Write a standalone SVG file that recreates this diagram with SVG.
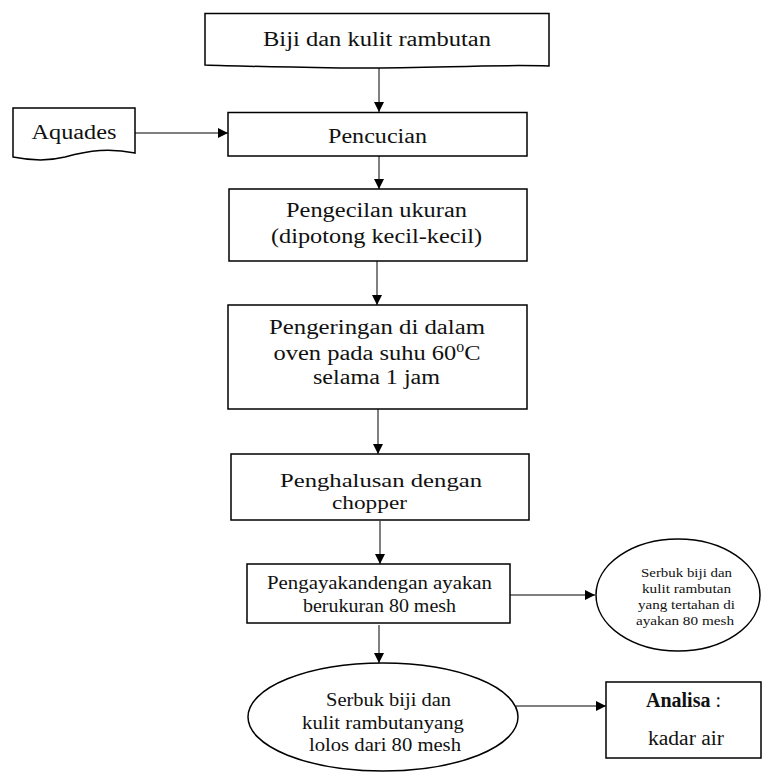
<svg xmlns="http://www.w3.org/2000/svg" width="763" height="772" viewBox="0 0 763 772">
<style>
.box{fill:#fff;stroke:#000;stroke-width:1.5}
.t{font-family:"Liberation Serif","Times New Roman",serif;font-size:20px;fill:#111;text-anchor:middle}
.m{font-family:"Liberation Serif","Times New Roman",serif;font-size:18px;fill:#111;text-anchor:middle}
.s{font-family:"Liberation Serif","Times New Roman",serif;font-size:12.5px;fill:#111;text-anchor:middle}
.c{stroke:#808080;stroke-width:2;fill:none;marker-end:url(#ah)}
</style>
<defs>
<marker id="ah" markerUnits="userSpaceOnUse" markerWidth="12" markerHeight="12" refX="10" refY="5" orient="auto">
<path d="M0,0 L10,5 L0,10 Z" fill="#000"/>
</marker>
</defs>
<rect width="763" height="772" fill="#fff"/>
<g id="connectors">
<line class="c" x1="379" y1="67" x2="379" y2="112"/>
<line class="c" x1="135" y1="133" x2="228" y2="133"/>
<line class="c" x1="379" y1="156" x2="379" y2="189"/>
<line class="c" x1="377" y1="261" x2="377" y2="305"/>
<line class="c" x1="378" y1="409" x2="378" y2="454"/>
<line class="c" x1="380" y1="521" x2="380" y2="564"/>
<line class="c" x1="510" y1="595" x2="595" y2="595"/>
<line class="c" x1="379" y1="625" x2="379" y2="663"/>
<line class="c" x1="516" y1="706" x2="606" y2="706"/>
</g>
<g id="n-biji">
<path class="box" d="M205,13.5 H549 V66 C480,64 430,69 340,68 C280,67 230,66 205,65 Z"/>
<text class="t" x="377" y="46" textLength="228" lengthAdjust="spacingAndGlyphs">Biji dan kulit rambutan</text>
</g>
<g id="n-aquades">
<path class="box" d="M13,108 H135 V153 C110,148 90,150 65,157 C45,162 28,160 13,157 Z"/>
<text class="t" x="74" y="139" textLength="85" lengthAdjust="spacingAndGlyphs">Aquades</text>
</g>
<g id="n-pencucian">
<rect class="box" x="228" y="112.5" width="299" height="43.5"/>
<text class="t" x="377.5" y="143" textLength="99" lengthAdjust="spacingAndGlyphs">Pencucian</text>
</g>
<g id="n-pengecilan">
<rect class="box" x="229" y="189" width="298" height="72"/>
<text class="t" x="376.5" y="217" textLength="181" lengthAdjust="spacingAndGlyphs">Pengecilan ukuran</text>
<text class="t" x="376.5" y="243" textLength="211" lengthAdjust="spacingAndGlyphs">(dipotong kecil-kecil)</text>
</g>
<g id="n-pengeringan">
<rect class="box" x="228" y="305" width="299" height="104"/>
<text class="t" x="377" y="334" textLength="216" lengthAdjust="spacingAndGlyphs">Pengeringan di dalam</text>
<text class="t" x="377" y="360" textLength="207" lengthAdjust="spacingAndGlyphs">oven pada suhu 60<tspan dy="-8" font-size="13">0</tspan><tspan dy="8">C</tspan></text>
<text class="t" x="376.5" y="384" textLength="127" lengthAdjust="spacingAndGlyphs">selama 1 jam</text>
</g>
<g id="n-penghalusan">
<rect class="box" x="231" y="454" width="298" height="66"/>
<text class="m" x="381" y="487" textLength="202" lengthAdjust="spacingAndGlyphs">Penghalusan dengan</text>
<text class="m" x="369.5" y="509" textLength="75" lengthAdjust="spacingAndGlyphs">chopper</text>
</g>
<g id="n-pengayakan">
<rect class="box" x="247" y="564" width="263" height="59"/>
<text class="m" x="379.5" y="589" textLength="225" lengthAdjust="spacingAndGlyphs">Pengayakandengan ayakan</text>
<text class="m" x="379.5" y="612" textLength="153" lengthAdjust="spacingAndGlyphs">berukuran 80 mesh</text>
</g>
<g id="n-tertahan">
<ellipse class="box" cx="678" cy="595" rx="82" ry="56"/>
<text class="s" x="686.5" y="577" textLength="91" lengthAdjust="spacingAndGlyphs">Serbuk biji dan</text>
<text class="s" x="686.5" y="593" textLength="89" lengthAdjust="spacingAndGlyphs">kulit rambutan</text>
<text class="s" x="686.5" y="609" textLength="97" lengthAdjust="spacingAndGlyphs">yang tertahan di</text>
<text class="s" x="685" y="625" textLength="98" lengthAdjust="spacingAndGlyphs">ayakan 80 mesh</text>
</g>
<g id="n-lolos">
<ellipse class="box" cx="383" cy="717" rx="135" ry="54"/>
<text class="m" x="388.5" y="706" textLength="125" lengthAdjust="spacingAndGlyphs">Serbuk biji dan</text>
<text class="m" x="383" y="729" textLength="162" lengthAdjust="spacingAndGlyphs">kulit rambutanyang</text>
<text class="m" x="385" y="751" textLength="152" lengthAdjust="spacingAndGlyphs">lolos dari 80 mesh</text>
</g>
<g id="n-analisa">
<rect class="box" x="606" y="682" width="155" height="76"/>
<text class="t" x="646" y="707" style="text-anchor:start"><tspan font-weight="bold">Analisa</tspan> :</text>
<text class="t" x="686" y="745" textLength="76" lengthAdjust="spacingAndGlyphs">kadar air</text>
</g>
</svg>
